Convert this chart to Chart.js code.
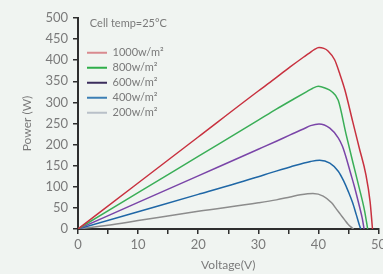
<!DOCTYPE html>
<html>
<head>
<meta charset="utf-8">
<script src="https://cdn.jsdelivr.net/npm/chart.js@4.4.1/dist/chart.umd.min.js"></script>
<style>
  html, body { margin: 0; padding: 0; background: #f0f4f1; overflow: hidden; }
  #wrap { width: 383px; height: 274px; }
</style>
</head>
<body>
<div id="wrap"><canvas id="pvChart" width="383" height="274"></canvas></div>
<script>
// P-V curves at different irradiance levels
const irradiance = ['1000w/m²', '800w/m²', '600w/m²', '400w/m²', '200w/m²'];

const v1000 = [0, 10, 20, 30, 32, 35.3, 37.5, 38.5, 39.3, 40.1, 40.9, 41.6, 42.7, 43.5, 44.4, 45.7, 46.8, 47.9, 48.6, 49.0];
const p1000 = [0, 109, 218, 327, 348, 384, 407, 417, 425, 430, 428, 422, 401, 370, 330, 255, 192, 129, 65, 0];

const v800 = [0, 10, 20, 30, 33, 35.9, 38, 39, 40, 41.1, 42.2, 43.3, 44.6, 45.7, 46.8, 47.7, 48.2];
const p800 = [0, 86, 172, 258, 284, 308, 325, 333, 338, 334, 326, 305, 225, 160, 97, 42, 0];

const v600 = [0, 10, 20, 30, 33, 35.3, 37.5, 38.7, 40.1, 41.9, 43.3, 44.0, 44.6, 45.3, 46.0, 46.8, 47.3, 47.6];
const p600 = [0, 63, 126, 189, 208, 223, 237, 245, 249, 239, 216, 196, 170, 135, 100, 55, 25, 0];

const v400 = [0, 10, 20, 30, 32, 35.3, 38.7, 40.2, 41.9, 43.3, 44.2, 45.0, 45.7, 46.3, 46.8, 47.05];
const p400 = [0, 41, 82, 124, 133, 147, 160, 163, 156, 137, 114, 88, 62, 34, 10, 0];

const v200 = [0, 5, 10, 20, 30, 33, 35.3, 37, 39.1, 40.8, 42.2, 43.0, 43.7, 44.4, 44.9, 45.4, 45.85];
const p200 = [0, 9, 20, 42, 62, 69, 76, 81, 84, 78, 62, 47, 34, 21, 12, 5, 0];

const volts = [v1000, v800, v600, v400, v200];
const powers = [p1000, p800, p600, p400, p200];

const lineColors = ['#c8313f', '#3aae57', '#7a45a8', '#1f67a6', '#8c8c8c'];
const legendColors = ['#d98a8f', '#2fae4a', '#3b2d5c', '#3c7fb5', '#b9c0c8'];

const datasets = irradiance.map((name, i) => ({
  label: name,
  data: volts[i].map((v, j) => ({ x: v, y: powers[i][j] })),
  borderColor: lineColors[i],
  backgroundColor: lineColors[i],
  borderWidth: 1.5,
  pointRadius: 0,
  cubicInterpolationMode: 'monotone',
  fill: false
}));

const textGray = '#7a7a7a';
const axisDark = '#2e2e2e';

// nudge the in-plot legend a little to the right
const legendNudge = {
  id: 'legendNudge',
  afterLayout(chart) {
    if (chart.legend) chart.legend.left += 5;
  }
};

new Chart(document.getElementById('pvChart'), {
  type: 'line',
  data: { datasets: datasets },
  plugins: [legendNudge],
  options: {
    responsive: false,
    animation: false,
    events: [],
    layout: { padding: { left: 20, top: 18, right: 4.5, bottom: 0 } },
    plugins: {
      tooltip: { enabled: false },
      legend: {
        position: 'chartArea',
        align: 'start',
        title: {
          display: true,
          text: 'Cell temp=25°C',
          color: textGray,
          font: { family: 'Lato', size: 11 },
          padding: { top: 18, bottom: 12 }
        },
        labels: {
          color: textGray,
          font: { family: 'Lato', size: 11 },
          boxWidth: 20,
          boxHeight: 2,
          padding: 4,
          generateLabels: (chart) => chart.data.datasets.map((ds, i) => ({
            text: ds.label,
            fillStyle: legendColors[i],
            strokeStyle: legendColors[i],
            lineWidth: 0,
            fontColor: textGray,
            datasetIndex: i
          }))
        }
      }
    },
    scales: {
      x: {
        type: 'linear',
        min: 0,
        max: 50,
        grid: { drawOnChartArea: false, color: axisDark, tickLength: 5, lineWidth: 1.5 },
        border: { color: axisDark, width: 2 },
        ticks: {
          stepSize: 5,
          color: textGray,
          font: { family: 'Lato', size: 13 },
          padding: 3,
          maxRotation: 0,
          autoSkip: false,
          callback: (v) => (v % 10 === 0 ? v : '')
        },
        title: {
          display: true,
          text: 'Voltage(V)',
          color: textGray,
          font: { family: 'Lato', size: 12 },
          padding: { top: 2, bottom: 2 }
        },
        afterFit: (scale) => {
          scale.height = 45;
          scale.paddingRight = 0;
          scale.paddingLeft = 0;
        }
      },
      y: {
        min: 0,
        max: 500,
        grid: { drawOnChartArea: false, color: axisDark, tickLength: 5, lineWidth: 1.5 },
        border: { color: axisDark, width: 2 },
        ticks: {
          stepSize: 50,
          color: textGray,
          font: { family: 'Lato', size: 13 },
          padding: 5
        },
        title: {
          display: true,
          text: 'Power (W)',
          color: textGray,
          font: { family: 'Lato', size: 12 },
          padding: 0
        },
        afterFit: (scale) => {
          scale.width = 58;
        }
      }
    }
  }
});
</script>
</body>
</html>
